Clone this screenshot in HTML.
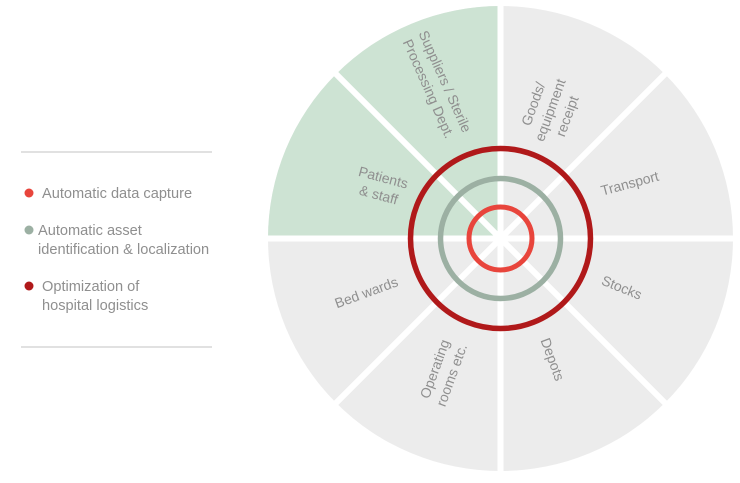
<!DOCTYPE html>
<html><head><meta charset="utf-8"><style>
body{margin:0;background:#fff;}
svg text{font-family:"Liberation Sans",sans-serif;fill:#8f8f8f;font-size:14px;}
svg .lg{font-size:14.6px;}
</style></head><body>
<svg width="740" height="478" viewBox="0 0 740 478" xmlns="http://www.w3.org/2000/svg">
<rect width="740" height="478" fill="#fff"/>
<line x1="21" y1="152" x2="212" y2="152" stroke="#cfcfcf" stroke-width="1.2"/>
<line x1="21" y1="347" x2="212" y2="347" stroke="#cfcfcf" stroke-width="1.2"/>
<circle cx="29" cy="193" r="4.5" fill="#e8453c"/>
<circle cx="29" cy="230" r="4.5" fill="#9cb0a3"/>
<circle cx="29" cy="286" r="4.5" fill="#b0191a"/>
<text class="lg" x="42" y="198">Automatic data capture</text>
<text class="lg" x="38" y="235">Automatic asset</text>
<text class="lg" x="38" y="254">identification &amp; localization</text>
<text class="lg" x="42" y="291">Optimization of</text>
<text class="lg" x="42" y="310">hospital logistics</text>

<circle cx="500.5" cy="238.5" r="232.5" fill="#ececec"/>
<path d="M500.5 238.5 L268 238.5 A232.5 232.5 0 0 1 500.5 6 Z" fill="#cde3d3"/>
<g stroke="#fff" stroke-width="6">
<line x1="500.5" y1="0" x2="500.5" y2="478"/>
<line x1="260" y1="238.5" x2="740" y2="238.5"/>
<line x1="330" y1="68" x2="671" y2="409"/>
<line x1="671" y1="68" x2="330" y2="409"/>
</g>
<circle cx="500.5" cy="238.5" r="90" fill="none" stroke="#b0191a" stroke-width="5.5"/>
<circle cx="500.5" cy="238.5" r="60" fill="none" stroke="#9cb0a3" stroke-width="5.5"/>
<circle cx="500.5" cy="238.5" r="31.5" fill="none" stroke="#e8453c" stroke-width="5"/>

<g text-anchor="middle">
<text transform="translate(437,85) rotate(66)"><tspan x="0" y="-4">Suppliers / Sterile</tspan><tspan x="0" y="14">Processing Dept.</tspan></text>
<text transform="translate(550,110) rotate(-70)"><tspan x="0" y="-13">Goods/</tspan><tspan x="0" y="5">equipment</tspan><tspan x="0" y="23">receipt</tspan></text>
<text transform="translate(631,188) rotate(-15)">Transport</text>
<text transform="translate(620,292) rotate(22)">Stocks</text>
<text transform="translate(548,361) rotate(70)">Depots</text>
<text transform="translate(443,372) rotate(-70)"><tspan x="0" y="-4">Operating</tspan><tspan x="0" y="14">rooms etc.</tspan></text>
<text transform="translate(368,297) rotate(-20)">Bed wards</text>
<text transform="translate(381,186) rotate(15)"><tspan x="0" y="-4">Patients</tspan><tspan x="0" y="14">&amp; staff</tspan></text>
</g>
</svg>
</body></html>
